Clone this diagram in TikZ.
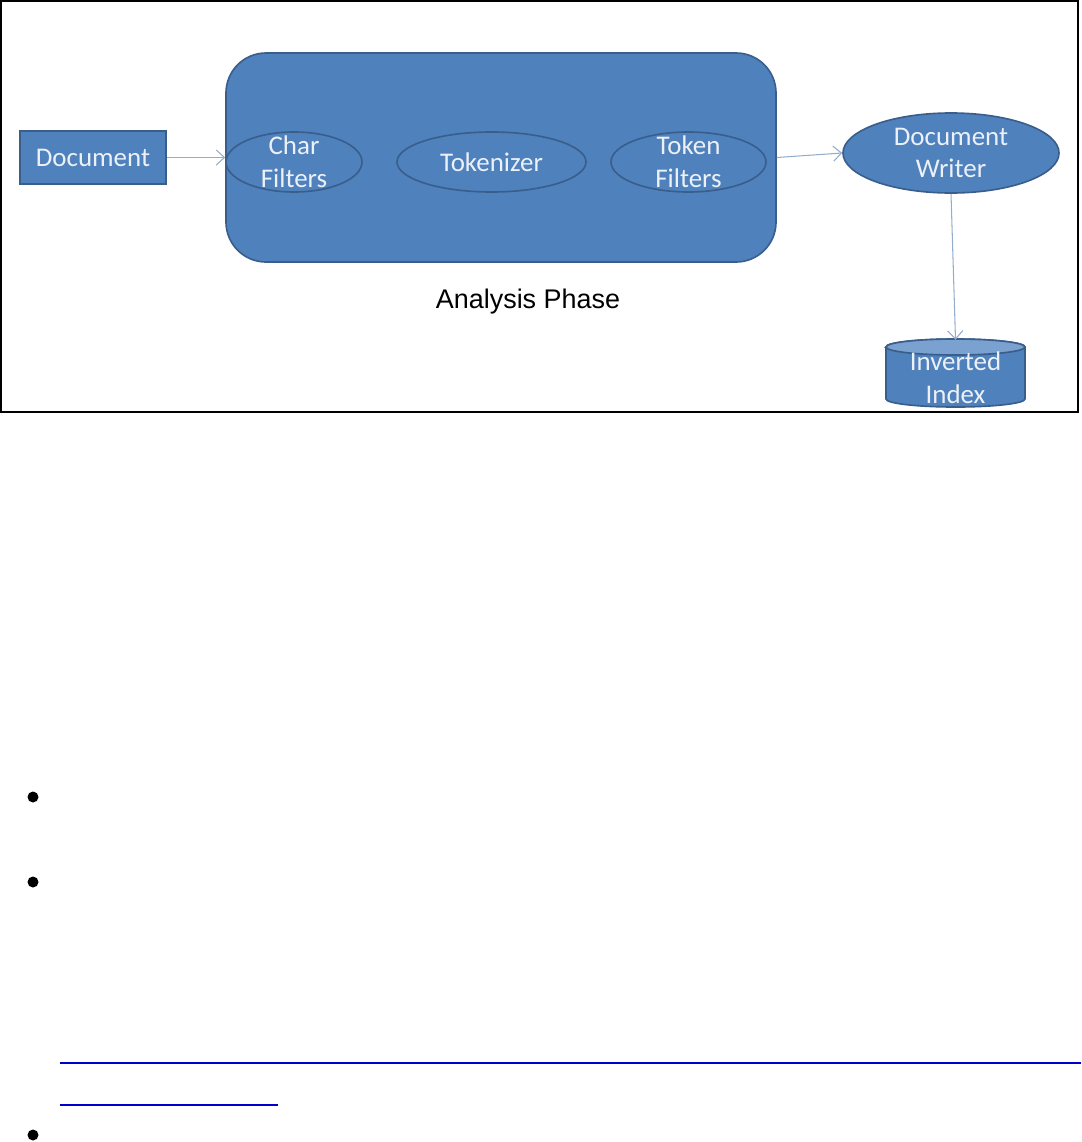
\documentclass[tikz,border=0pt]{standalone}
\usepackage{fontspec}
\setmainfont{Carlito}
\newfontfamily\phasefont{Liberation Sans}
\usetikzlibrary{shapes.geometric, positioning, arrows.meta}

\definecolor{boxblue}{RGB}{79,129,189}
\definecolor{boxedge}{RGB}{58,94,140}
\definecolor{ptrgray}{RGB}{148,172,204}
\definecolor{boxtext}{RGB}{236,241,248}
\definecolor{cyltop}{RGB}{122,161,208}
\definecolor{linkblue}{RGB}{0,0,204}

\begin{document}
\begin{tikzpicture}[x=0.03cm, y=-0.03cm]
  \useasboundingbox (0,0) rectangle (1081,1142);

  \tikzset{ptr/.style={-{Straight Barb[length=7pt, width=13pt]}, draw=ptrgray, line width=0.9pt}}
  \tikzset{blueshape/.style={fill=boxblue, draw=boxedge, line width=1.4pt}}
  \tikzset{docbox/.style={blueshape, rectangle, minimum width=4.38cm, minimum height=1.59cm, inner sep=0pt}}
  \tikzset{phasebox/.style={blueshape, rectangle, rounded corners=1.2cm, minimum width=16.5cm, minimum height=6.27cm}}
  \tikzset{stageell/.style={blueshape, ellipse, minimum height=1.8cm, inner sep=0pt}}
  \tikzset{stagetxt/.style={text=boxtext, align=center, font=\fontsize{23}{28}\selectfont, inner sep=0pt}}
  \tikzset{cylend/.style={x radius=2.085cm, y radius=0.24cm}}

  % outer frame of the figure
  \draw[line width=1.6pt] (1,1) rectangle (1078,412);

  % input
  \node[docbox, stagetxt] at (93,157.5) (doc) {Document};

  % analysis phase with its three stages
  \node[phasebox] at (501,157.5) (phase) {};
  \node[stageell, minimum width=4.08cm] at (294,162) (cf) {};
  \node[stagetxt] at (cf) {Char\\Filters};
  \node[stageell, minimum width=5.67cm] at (491.5,162) (tok) {};
  \node[stagetxt] at (tok) {Tokenizer};
  \node[stageell, minimum width=4.65cm] at (688.5,162) (tf) {};
  \node[stagetxt] at (tf) {Token\\Filters};
  \node[font=\phasefont\fontsize{23}{27}\selectfont] at (528,302) (phaselbl) {Analysis Phase};

  % output side
  \node[stageell, minimum width=6.48cm, minimum height=2.4cm] at (951,153) (dw) {};
  \node[stagetxt] at (dw) {Document\\Writer};

  % inverted index store (cylinder)
  \node[minimum width=4.17cm, minimum height=2.01cm, inner sep=0pt] at (955.5,373.5) (idx) {};
  \draw[blueshape] (886,347) -- (886,399) arc[start angle=180, end angle=360, cylend]
    -- (1025,347) arc[start angle=0, end angle=180, cylend] -- cycle;
  \draw[blueshape, fill=cyltop] (955.5,347) ellipse[cylend];
  \node[stagetxt] at (955.5,378) (idxlbl) {Inverted\\Index};

  \draw[ptr] (doc.east) -- (doc.east -| cf.west);
  \draw[ptr] (phase.east) -- (dw.west);
  \draw[ptr] (dw.south) -- (idx.north);

  % bullets and link underlines below the figure
  \foreach \by in {797, 882, 1135}{
    \fill (33,\by) circle[radius=0.165cm];
  }
  \draw[linkblue, line width=1.6pt] (60,1063) -- (1081,1063);
  \draw[linkblue, line width=1.6pt] (60,1105) -- (278,1105);
\end{tikzpicture}
\end{document}
